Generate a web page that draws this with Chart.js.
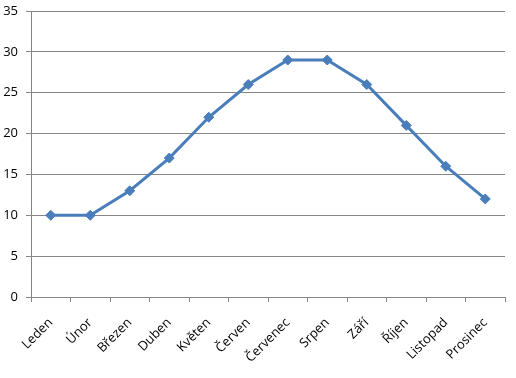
<!DOCTYPE html>
<html>
<head>
<meta charset="utf-8">
<script src="https://cdn.jsdelivr.net/npm/chart.js@4"></script>
<style>
  html, body { margin: 0; padding: 0; background: #fff; }
  #wrap { width: 516px; height: 378px; }
</style>
</head>
<body>
<div id="wrap"><canvas id="monthChart" width="516" height="378"></canvas></div>
<script>
const months = ['Leden', 'Únor', 'Březen', 'Duben', 'Květen', 'Červen', 'Červenec', 'Srpen', 'Září', 'Říjen', 'Listopad', 'Prosinec'];
const values = [10, 10, 13, 17, 22, 26, 29, 29, 26, 21, 16, 12];
const yMin = 0, yMax = 35, yStep = 5;

const gridGray = '#868686';
const lineBlue = '#4A7EBB';

const ctx = document.getElementById('monthChart').getContext('2d');

const monthChart = new Chart(ctx, {
    type: 'line',
    data: {
        labels: months,
        datasets: [{
            data: values,
            borderColor: lineBlue,
            backgroundColor: lineBlue,
            borderWidth: 3,
            pointStyle: 'rectRot',
            pointRadius: 5,
            pointBorderWidth: 1,
            fill: false,
            tension: 0
        }]
    },
    options: {
        responsive: false,
        animation: false,
        layout: { padding: { top: 11, right: 11, left: 0, bottom: 0 } },
        plugins: { legend: { display: false }, tooltip: { enabled: false } },
        scales: {
            x: {
                offset: true,
                grid: { offset: true, drawOnChartArea: false, drawTicks: true, tickLength: 5, color: gridGray },
                border: { color: gridGray, width: 1 },
                ticks: {
                    minRotation: 45, maxRotation: 45, autoSkip: false,
                    color: '#000', padding: 13,
                    font: { family: 'Open Sans', size: 13 }
                },
                afterFit: s => { s.height = 81; s.paddingLeft = 0; s.paddingRight = 0; }
            },
            y: {
                min: yMin, max: yMax,
                grid: { color: gridGray, tickLength: 5 },
                border: { color: gridGray, width: 1 },
                ticks: {
                    stepSize: yStep, color: '#000', padding: 8,
                    font: { family: 'Open Sans', size: 13 }
                },
                afterFit: s => { s.width = 31; s.paddingTop = 0; s.paddingBottom = 0; }
            }
        }
    }
});
</script>
</body>
</html>
